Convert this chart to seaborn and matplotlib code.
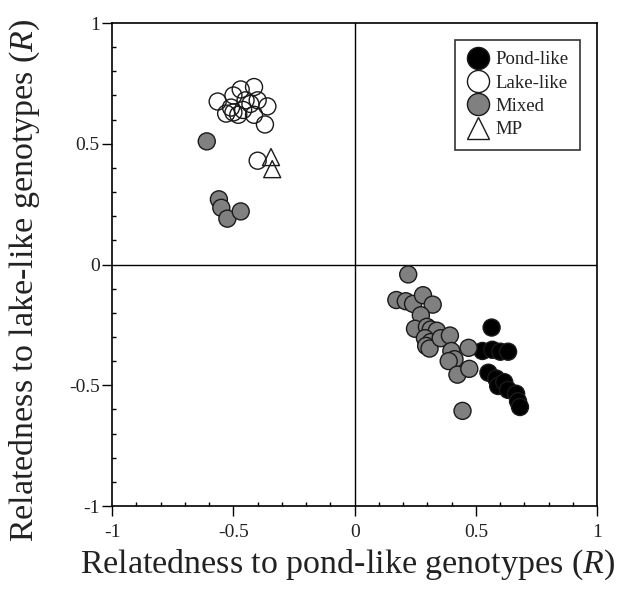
import numpy as np
import pandas as pd
import matplotlib
matplotlib.use("Agg")
import matplotlib.pyplot as plt
from matplotlib.ticker import MultipleLocator, FixedLocator
import seaborn as sns

# ---- data ----
pond_x = [0.565, 0.527, 0.568, 0.601, 0.633, 0.552, 0.584, 0.592, 0.617, 0.633, 0.666, 0.674, 0.682]
pond_y = [-0.261, -0.358, -0.353, -0.361, -0.361, -0.448, -0.472, -0.503, -0.487, -0.519, -0.535, -0.566, -0.590]

lake_x = [-0.565, -0.47, -0.415, -0.50, -0.53, -0.50, -0.48, -0.51, -0.45, -0.40, -0.36, -0.415, -0.37, -0.46, -0.43, -0.40]
lake_y = [0.675, 0.725, 0.735, 0.70, 0.625, 0.63, 0.62, 0.65, 0.68, 0.68, 0.655, 0.62, 0.58, 0.64, 0.665, 0.43]

mixed_x = [-0.61, -0.56, -0.55, -0.525, -0.47,
           0.221, 0.172, 0.211, 0.241, 0.282, 0.322, 0.273, 0.249, 0.298, 0.314, 0.339,
           0.290, 0.314, 0.295, 0.309, 0.355, 0.393, 0.399, 0.412, 0.388, 0.424, 0.470, 0.473, 0.445]
mixed_y = [0.51, 0.27, 0.235, 0.19, 0.22,
           -0.041, -0.147, -0.152, -0.163, -0.127, -0.166, -0.210, -0.266, -0.258, -0.269, -0.274,
           -0.305, -0.321, -0.337, -0.348, -0.305, -0.294, -0.358, -0.392, -0.400, -0.456, -0.345, -0.432, -0.606]

mp_x = [-0.345, -0.34]
mp_y = [0.445, 0.395]

groups = ["Pond-like", "Lake-like", "Mixed", "MP"]
open_groups = ["Lake-like", "MP"]

df = pd.concat([
    pd.DataFrame({"x": pond_x, "y": pond_y, "g": "Pond-like"}),
    pd.DataFrame({"x": lake_x, "y": lake_y, "g": "Lake-like"}),
    pd.DataFrame({"x": mixed_x, "y": mixed_y, "g": "Mixed"}),
    pd.DataFrame({"x": mp_x, "y": mp_y, "g": "MP"}),
], ignore_index=True)

sns.set_theme(style="white")
plt.rcParams["font.family"] = ["Liberation Serif", "DejaVu Serif"]
plt.rcParams["mathtext.fontset"] = "custom"
plt.rcParams["mathtext.rm"] = "Liberation Serif"
plt.rcParams["mathtext.it"] = "Liberation Serif:italic"
plt.rcParams["axes.unicode_minus"] = False

fig = plt.figure(figsize=(6.2, 5.97), dpi=100)
ax = fig.add_axes([0.181, 0.1524, 0.782, 0.809])

palette = {"Pond-like": "black", "Lake-like": "white", "Mixed": "#808080", "MP": "white"}
markers = {"Pond-like": "o", "Lake-like": "o", "Mixed": "o", "MP": "^"}

ax.axhline(0, color="black", lw=1.0, zorder=1)
ax.axvline(0, color="black", lw=1.0, zorder=1)

sns.scatterplot(data=df, x="x", y="y", hue="g", style="g", hue_order=groups,
                style_order=groups, palette=palette, markers=markers, s=150,
                edgecolor="#1a1a1a", linewidth=1.0, ax=ax, zorder=3)

# open (unfilled) markers for lake-like and MP points
coll = ax.collections[-1]
fc = np.array(coll.get_facecolors())
if len(fc) == len(df):
    mask = df["g"].isin(open_groups).to_numpy()
    fc[mask, 3] = 0.0
    coll.set_facecolors(fc)

ax.set_xlim(-1, 1)
ax.set_ylim(-1, 1)
ax.xaxis.set_major_locator(FixedLocator([-1, -0.5, 0, 0.5, 1]))
ax.yaxis.set_major_locator(FixedLocator([-1, -0.5, 0, 0.5, 1]))
ax.xaxis.set_minor_locator(MultipleLocator(0.1))
ax.yaxis.set_minor_locator(MultipleLocator(0.1))
ax.set_xticklabels(["-1", "-0.5", "0", "0.5", "1"])
ax.set_yticklabels(["-1", "-0.5", "0", "0.5", "1"])
ax.tick_params(which="major", direction="out", length=7, width=1.0, color="black",
               labelsize=14, labelcolor="#222", bottom=True, left=True)
ax.tick_params(axis="x", which="major", pad=6)
ax.tick_params(axis="y", which="major", pad=2)
ax.tick_params(which="minor", direction="in", length=3, width=1.0, color="black",
               bottom=True, left=True)
for sp in ax.spines.values():
    sp.set_color("black")
    sp.set_linewidth(1.2)

ax.set_xlabel("Relatedness to pond-like genotypes ($\\mathit{R}$)", fontsize=24.5,
              color="#222")
ax.set_ylabel("Relatedness to lake-like genotypes ($\\mathit{R}$)", fontsize=24.5,
              color="#222")
ax.xaxis.set_label_coords(0.485, -0.085)
ax.yaxis.set_label_coords(-0.144, 0.468)

handles, labels = ax.get_legend_handles_labels()
for h in handles:
    if hasattr(h, "get_label") and h.get_label() in open_groups:
        try:
            h.set_markerfacecolor("none")
        except Exception:
            pass
leg = ax.legend(handles, labels, loc="upper left", bbox_to_anchor=(0.707, 0.965),
                borderaxespad=0, frameon=True, fancybox=False, edgecolor="black",
                fontsize=13.5, markerscale=1.3, handletextpad=0.35, labelspacing=0.33,
                handlelength=1.2, borderpad=0.6)
leg.get_frame().set_linewidth(1.2)
for t in leg.get_texts():
    t.set_color("#222")

fig.savefig("out.png", dpi=100)
